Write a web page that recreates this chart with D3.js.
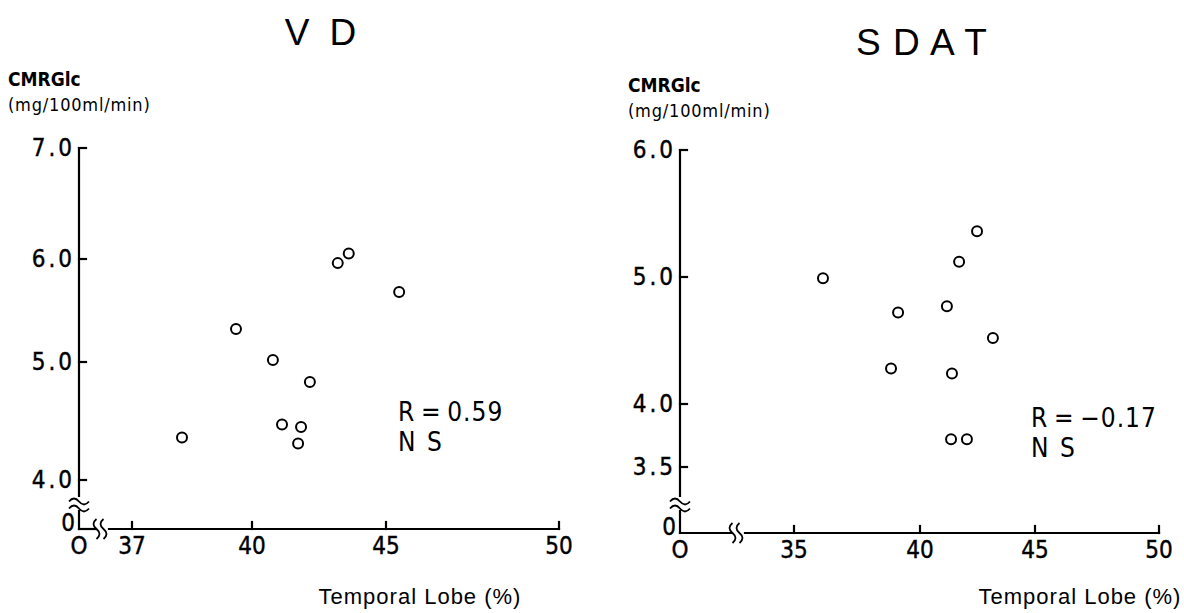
<!DOCTYPE html>
<html><head><meta charset="utf-8">
<script src="https://cdn.jsdelivr.net/npm/d3@7"></script>
<style>
body{margin:0;background:#fff;}
svg{display:block;}
.tick-lab{font-family:"DejaVu Sans Condensed","Liberation Sans Narrow","Liberation Sans",sans-serif;font-stretch:condensed;font-size:24px;fill:#000;stroke:#000;stroke-width:0.4px;}
.unit{font-family:"DejaVu Sans Condensed","Liberation Sans",sans-serif;font-stretch:condensed;fill:#000;}
.title{font-family:"Liberation Sans","Arial",sans-serif;font-size:37px;fill:#000;}
.xlab{font-family:"Liberation Sans",sans-serif;font-size:22px;fill:#000;letter-spacing:1px;}
.stat{font-family:"DejaVu Sans Condensed","Liberation Sans",sans-serif;font-stretch:condensed;font-size:26px;fill:#000;}
</style>
</head><body>
<svg id="chart" width="1184" height="613"></svg>
<script>
// ---- data ----
const titles = ["V D", "S D A T"];
const yAxisLabel = ["CMRGlc", "(mg/100ml/min)"];
const xAxisLabel = "Temporal Lobe (%)";

const vdTemporal = [38.25, 39.6, 40.78, 41.12, 41.83, 41.72, 42.16, 43.2, 43.61, 45.38];
const vdCMRGlc   = [4.36, 5.32, 5.02, 4.47, 4.45, 4.31, 4.83, 5.96, 6.05, 5.68];
const vdXTicks = [37, 40, 45, 50];
const vdYTicks = [4.0, 5.0, 6.0, 7.0];
const vdStat = ["R\u2009=\u20090.59", "N S"];

const sdatTemporal = [36.15, 39.13, 41.17, 41.7, 42.48, 43.17, 38.85, 41.39, 41.35, 42.04];
const sdatCMRGlc   = [4.99, 4.72, 4.77, 5.12, 5.36, 4.52, 4.28, 4.24, 3.72, 3.72];
const sdatXTicks = [35, 40, 45, 50];
const sdatYTicks = [3.5, 4.0, 5.0, 6.0];
const sdatStat = ["R\u2009=\u2009\u22120.17", "N S"];

const svg = d3.select("#chart");

function panel(cfg){
  const g = svg.append("g");
  const x = d3.scaleLinear().domain(cfg.xTicks).range(cfg.xRange);
  const y = d3.scaleLinear().domain(cfg.yTicks).range(cfg.yRange);
  const ox = cfg.origin[0], oy = cfg.origin[1];
  const line = d3.line();
  function path(pts, w){
    return g.append("path").attr("d", line(pts)).attr("stroke","#000")
      .attr("stroke-width", w||2.2).attr("fill","none").attr("stroke-linecap","square");
  }
  const yTop = y(cfg.yTicks[cfg.yTicks.length-1]);
  // y axis
  path([[ox, yTop],[ox, cfg.yBreak-7]]);
  path([[ox, cfg.yBreak+8],[ox, oy]]);
  [-3.5, 3.5].forEach(d=>{
    g.append("path").attr("d",`M${ox-10},${cfg.yBreak+d+2} q5,-6 10,0 t10,0`)
      .attr("stroke","#000").attr("stroke-width",1.8).attr("fill","none");
  });
  // x axis
  path([[ox, oy],[cfg.xBreak-6, oy]]);
  path([[cfg.xBreak+7, oy],[x(cfg.xTicks[cfg.xTicks.length-1]), oy]]);
  [-3.5, 3.5].forEach(d=>{
    g.append("path").attr("d",`M${cfg.xBreak+d-2},${oy-10} q-6,5 0,10 t0,10`)
      .attr("stroke","#000").attr("stroke-width",1.8).attr("fill","none");
  });
  // y ticks
  cfg.yTicks.forEach(v=>{
    path([[ox, y(v)],[ox+7, y(v)]]);
    g.append("text").attr("class","tick-lab").attr("x", ox-4).attr("y", y(v)+8)
      .attr("text-anchor","end").attr("letter-spacing","3px").text(d3.format(".1f")(v));
  });
  // x ticks
  cfg.xTicks.forEach(v=>{
    path([[x(v), oy],[x(v), oy-7]]);
    g.append("text").attr("class","tick-lab").attr("x", x(v)).attr("y", oy+25)
      .attr("text-anchor","middle").text(v);
  });
  // zeros
  g.append("text").attr("class","tick-lab").attr("x", ox-4).attr("y", oy+2)
    .attr("text-anchor","end").text("0");
  g.append("text").attr("class","tick-lab").attr("x", ox).attr("y", oy+25)
    .attr("text-anchor","middle").attr("stroke-width",0).text("O");
  // axis labels
  g.append("text").attr("class","unit").attr("x", cfg.unitX).attr("y", cfg.unitY)
    .attr("font-size",19).attr("font-weight",600).text(yAxisLabel[0]);
  g.append("text").attr("class","unit").attr("x", cfg.unitX).attr("y", cfg.unitY+25)
    .attr("font-size",18).attr("letter-spacing","0.8px").text(yAxisLabel[1]);
  g.append("text").attr("class","xlab").attr("x", cfg.xLabX).attr("y", cfg.xLabY)
    .attr("text-anchor","middle").text(xAxisLabel);
  // title
  g.append("text").attr("class","title").attr("x", cfg.titleX).attr("y", cfg.titleY)
    .attr("text-anchor","middle").attr("letter-spacing", cfg.titleSpacing).text(cfg.title);
  // stats
  g.append("text").attr("class","stat").attr("x", cfg.statX).attr("y", cfg.statY)
    .attr("letter-spacing","1px").text(cfg.stat[0]);
  g.append("text").attr("class","stat").attr("x", cfg.statX).attr("y", cfg.statY+30)
    .attr("letter-spacing","2px").text(cfg.stat[1]);
  // points
  g.selectAll("circle.pt").data(cfg.xs.map((v,i)=>[v, cfg.ys[i]])).join("circle")
    .attr("class","pt").attr("cx", d=>x(d[0])).attr("cy", d=>y(d[1])).attr("r",5)
    .attr("fill","#fff").attr("stroke","#000").attr("stroke-width",2);
}

panel({
  title: titles[0], titleX: 323, titleY: 45, titleSpacing: "5px",
  xTicks: vdXTicks, xRange: [132, 252, 386, 559],
  yTicks: vdYTicks, yRange: [480, 362, 259, 148],
  origin: [79, 529], yBreak: 503, xBreak: 102,
  xs: vdTemporal, ys: vdCMRGlc,
  unitX: 8, unitY: 86, xLabX: 420, xLabY: 604,
  stat: vdStat, statX: 398, statY: 421
});
panel({
  title: titles[1], titleX: 922, titleY: 55, titleSpacing: "1px",
  xTicks: sdatXTicks, xRange: [794, 920, 1035, 1159],
  yTicks: sdatYTicks, yRange: [467, 404, 277, 150],
  origin: [680, 533], yBreak: 503, xBreak: 738,
  xs: sdatTemporal, ys: sdatCMRGlc,
  unitX: 628, unitY: 92, xLabX: 1080, xLabY: 604,
  stat: sdatStat, statX: 1031, statY: 427
});
</script>
</body></html>
